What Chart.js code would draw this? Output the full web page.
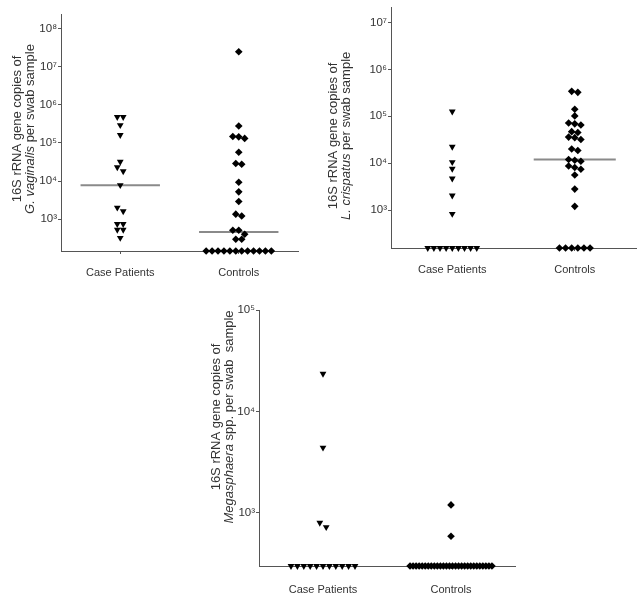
<!DOCTYPE html>
<html>
<head>
<meta charset="utf-8">
<script src="https://cdn.jsdelivr.net/npm/chart.js@4/dist/chart.umd.min.js"></script>
<style>
  body { margin: 0; background: #fff; }
  #wrap { position: relative; width: 640px; height: 596px; }
  canvas { position: absolute; }
</style>
</head>
<body>
<div id="wrap">
  <canvas id="gv" width="310" height="290" style="left:0;top:0"></canvas>
  <canvas id="lc" width="320" height="290" style="left:320px;top:0"></canvas>
  <canvas id="ms" width="340" height="300" style="left:190px;top:296px"></canvas>
</div>
<script>
const categories = ["Case Patients", "Controls"];

// G. vaginalis copies per swab (145 = below detection, sits on the axis)
const gvCases = [480000, 480000, 295000, 162000, 32000, 23000, 18000, 7800, 2000, 1600, 740, 740, 525, 525, 320];
const gvControls = [25000000, 280000, 148000, 145000, 132000, 57000, 29000, 27500, 9300, 5200, 2900,
    1350, 1200, 510, 510, 400, 295, 295,
    145, 145, 145, 145, 145, 145, 145, 145, 145, 145, 145, 145];
const gvTicks = [1e3, 1e4, 1e5, 1e6, 1e7, 1e8];

// L. crispatus
const lcCases = [126000, 22400, 10500, 7600, 4700, 2040, 830, 155, 155, 155, 155, 155, 155, 155, 155, 155];
const lcControls = [340000, 324000, 141000, 102000, 72000, 69000, 65000, 47000, 45000, 36000, 35000, 32000,
    20000, 18600, 12000, 11500, 11000, 8700, 8100, 7400, 5600, 2800, 1200,
    155, 155, 155, 155, 155, 155];
const lcTicks = [1e3, 1e4, 1e5, 1e6, 1e7];

// Megasphaera spp.
const msCases = [23500, 4400, 800, 725, 300, 300, 300, 300, 300, 300, 300, 300, 300, 300, 300];
const msControls = [1200, 590, 300, 300, 300, 300, 300, 300, 300, 300, 300, 300, 300, 300, 300, 300,
    300, 300, 300, 300, 300, 300, 300, 300, 300, 300, 300, 300, 300, 300];
const msTicks = [1e3, 1e4, 1e5];

const axisColor = "#555";
const textColor = "#333";
const medianColor = "#8a8a8a";
const sup = "⁰¹²³⁴⁵⁶⁷⁸⁹";

function powLabel(v) {
    const e = Math.round(Math.log10(v));
    return "10" + String(e).split("").map(d => sup[+d]).join("");
}

function median(values) {
    const s = values.slice().sort((a, b) => a - b);
    const m = s.length >> 1;
    return s.length % 2 ? s[m] : (s[m - 1] + s[m]) / 2;
}

// Prism-like column scatter: points closer than ~5px in y share a row, rows are centred
function swarm(values, center, pxPerDecade) {
    const sorted = values.slice().sort((a, b) => b - a);
    const rows = [];
    sorted.forEach(v => {
        const row = rows[rows.length - 1];
        if (row && (Math.log10(row[0]) - Math.log10(v)) * pxPerDecade < 5) row.push(v);
        else rows.push([v]);
    });
    const pts = [];
    rows.forEach(row => {
        const step = Math.min(0.05, 0.64 / Math.max(row.length - 1, 1));
        row.forEach((v, i) => pts.push({ x: center + (i - (row.length - 1) / 2) * step, y: v }));
    });
    return pts;
}

const yTitle = {
    id: "yTitle",
    afterDraw(chart, args, opts) {
        const ctx = chart.ctx;
        const a = chart.chartArea;
        ctx.save();
        ctx.fillStyle = textColor;
        ctx.textBaseline = "middle";
        ctx.textAlign = "left";
        opts.lines.forEach((line, li) => {
            const fontFor = seg => (seg.i ? "italic " : "") + opts.size + "px 'Liberation Sans', Arial, sans-serif";
            let total = 0;
            line.forEach(seg => { ctx.font = fontFor(seg); total += ctx.measureText(seg.t).width; });
            ctx.save();
            ctx.translate(opts.x[li], a.top + opts.yOffset);
            ctx.rotate(-Math.PI / 2);
            let x = -total / 2;
            line.forEach(seg => {
                ctx.font = fontFor(seg);
                ctx.fillText(seg.t, x, 0);
                x += ctx.measureText(seg.t).width;
            });
            ctx.restore();
        });
        ctx.restore();
    }
};

function makePanel(p) {
    const plotH = p.height - p.padTop - p.xHeight;
    const pxPerDecade = plotH / (Math.log10(p.max) - Math.log10(p.min));
    const datasets = [
        { data: swarm(p.cases, 1, pxPerDecade), pointStyle: "triangle", rotation: 180, pointRadius: 3.9,
          backgroundColor: "#000", borderColor: "#000", borderWidth: 0, clip: false, order: 0 },
        { data: swarm(p.controls, 2, pxPerDecade), pointStyle: "rectRot", pointRadius: 3.8,
          backgroundColor: "#000", borderColor: "#000", borderWidth: 0, clip: false, order: 0 }
    ];
    [p.cases, p.controls].forEach((vals, i) => {
        const m = median(vals);
        if (m <= p.min) return;
        datasets.push({ type: "line", data: [{ x: i + 1 - 0.335, y: m }, { x: i + 1 + 0.335, y: m }],
            borderColor: medianColor, borderWidth: 2, pointRadius: 0, order: 1 });
    });

    new Chart(document.getElementById(p.id), {
        type: "scatter",
        data: { datasets },
        options: {
            responsive: false,
            animation: false,
            events: [],
            layout: { padding: { top: p.padTop, right: p.padRight, left: 0, bottom: 0 } },
            plugins: {
                legend: { display: false },
                tooltip: { enabled: false },
                yTitle: { lines: p.title, x: p.titleX, yOffset: p.titleY, size: p.titleSize }
            },
            scales: {
                x: {
                    type: "linear", min: 0.5, max: 2.5,
                    afterBuildTicks: s => { s.ticks = [{ value: 1 }, { value: 2 }]; },
                    afterFit: s => { s.height = p.xHeight; },
                    ticks: { callback: v => categories[v - 1], color: textColor, padding: p.xPad,
                             maxRotation: 0, font: { family: "'Liberation Sans', Arial", size: 11 } },
                    grid: { drawOnChartArea: false, drawTicks: true, tickLength: 3, color: axisColor },
                    border: { color: axisColor, width: 1 }
                },
                y: {
                    type: "logarithmic", min: p.min, max: p.max,
                    afterBuildTicks: s => { s.ticks = p.ticks.map(v => ({ value: v })); },
                    afterFit: s => { s.width = p.yWidth; },
                    ticks: { callback: v => powLabel(v), color: textColor, padding: 1,
                             font: { family: "'Liberation Sans', Arial", size: 11.5 } },
                    grid: { drawOnChartArea: false, drawTicks: true, tickLength: 3, color: axisColor },
                    border: { color: axisColor, width: 1 }
                }
            }
        },
        plugins: [yTitle]
    });
}

makePanel({
    id: "gv", height: 290, cases: gvCases, controls: gvControls, ticks: gvTicks,
    min: 145, max: 2.45e8, yWidth: 61, padTop: 14, padRight: 12, xHeight: 39, xPad: 12,
    title: [[{ t: "16S rRNA gene copies of" }], [{ t: "G. vaginalis", i: true }, { t: " per swab sample" }]],
    titleX: [17, 30], titleY: 115, titleSize: 13
});

makePanel({
    id: "lc", height: 290, cases: lcCases, controls: lcControls, ticks: lcTicks,
    min: 155, max: 2.05e7, yWidth: 71, padTop: 2, padRight: 3, xHeight: 42, xPad: 12,
    title: [[{ t: "16S rRNA gene copies of" }], [{ t: "L. crispatus", i: true }, { t: " per swab sample" }]],
    titleX: [13, 26], titleY: 128, titleSize: 13
});

makePanel({
    id: "ms", height: 300, cases: msCases, controls: msControls, ticks: msTicks,
    min: 300, max: 1e5, yWidth: 69, padTop: 14, padRight: 15, xHeight: 30, xPad: 14,
    title: [[{ t: "16S rRNA gene copies of" }], [{ t: "Megasphaera", i: true }, { t: " spp. per swab  sample" }]],
    titleX: [26, 39], titleY: 107, titleSize: 13
});
</script>
</body>
</html>
